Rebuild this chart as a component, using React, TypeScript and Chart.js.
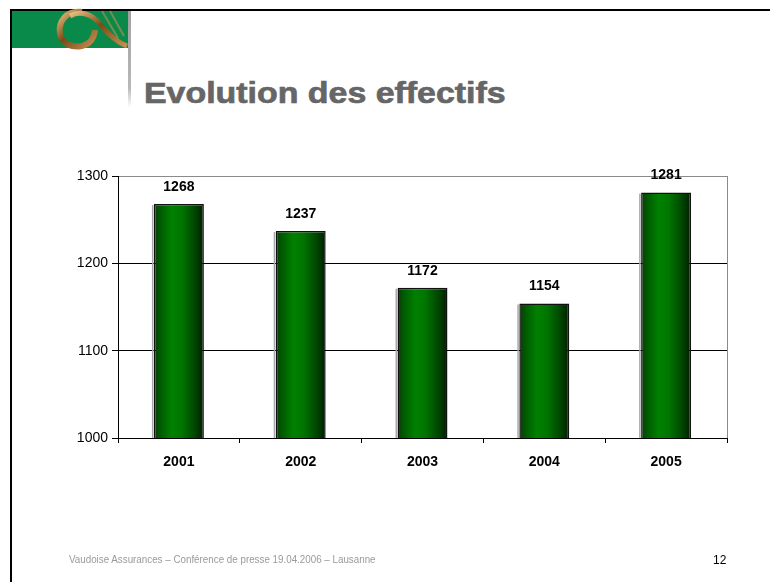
import React, { useEffect, useRef } from "react";
import { Chart, registerables } from "chart.js";

Chart.register(...registerables);

const categories = ["2001", "2002", "2003", "2004", "2005"];
const effectifs = [1268, 1237, 1172, 1154, 1281];
const yMin = 1000;
const yMax = 1300;
const yStep = 100;

const FONT = "'Liberation Sans', Arial, sans-serif";

const valueLabels = {
  id: "valueLabels",
  afterDatasetsDraw(chart: any) {
    const ctx = chart.ctx;
    const meta = chart.getDatasetMeta(0);
    ctx.save();
    ctx.font = `bold 14px ${FONT}`;
    ctx.fillStyle = "#000";
    ctx.textAlign = "center";
    ctx.textBaseline = "middle";
    meta.data.forEach((el: any, i: number) => {
      ctx.fillText(String(chart.data.datasets[0].data[i]), el.x, el.y - 17);
    });
    ctx.restore();
  },
};

const frame = {
  id: "frame",
  beforeDatasetsDraw(chart: any) {
    const { ctx, chartArea } = chart;
    ctx.save();
    ctx.strokeStyle = "#8a8a8a";
    ctx.lineWidth = 1;
    ctx.beginPath();
    ctx.moveTo(Math.round(chartArea.right) + 0.5, chartArea.top);
    ctx.lineTo(Math.round(chartArea.right) + 0.5, chartArea.bottom);
    ctx.stroke();
    const meta = chart.getDatasetMeta(0);
    ctx.fillStyle = "#a8a8a8";
    meta.data.forEach((el: any) => {
      const l = el.x - el.width / 2;
      ctx.fillRect(l - 2, el.y + 1, 1.5, chartArea.bottom - el.y - 1);
    });
    ctx.restore();
  },
};

export default function App() {
  const ref = useRef<HTMLCanvasElement>(null);
  useEffect(() => {
    if (!ref.current) return;
    const chart = new Chart(ref.current, {
      type: "bar",
      data: {
        labels: categories,
        datasets: [
          {
            data: effectifs,
            backgroundColor: (c: any) => {
              const ch = c.chart;
              if (!ch.chartArea) return "#007000";
              const xs = ch.scales.x;
              const cx = xs.getPixelForValue(c.dataIndex);
              const w = ((ch.chartArea.right - ch.chartArea.left) / categories.length) * 0.41;
              const g = ch.ctx.createLinearGradient(cx - w / 2, 0, cx + w / 2, 0);
              g.addColorStop(0, "#0b3a0b");
              g.addColorStop(0.12, "#005a00");
              g.addColorStop(0.35, "#008000");
              g.addColorStop(0.55, "#007600");
              g.addColorStop(0.8, "#004a00");
              g.addColorStop(1, "#001e00");
              return g;
            },
            borderColor: "#111",
            borderWidth: 1.5,
            barPercentage: 0.41,
            categoryPercentage: 1,
          },
        ],
      },
      options: {
        animation: false,
        responsive: false,
        devicePixelRatio: 1,
        layout: { padding: { left: 40, right: 43, top: 176, bottom: 104 } },
        plugins: { legend: { display: false }, tooltip: { enabled: false } },
        scales: {
          x: {
            afterFit: (s: any) => {
              s.height = 40;
            },
            grid: {
              offset: true,
              drawOnChartArea: false,
              drawTicks: true,
              tickLength: 5,
              color: "#000",
            },
            border: { color: "#000", width: 1 },
            ticks: {
              color: "#000",
              font: { family: FONT, size: 14, weight: "bold" },
              padding: 11,
            },
          },
          y: {
            min: yMin,
            max: yMax,
            afterFit: (s: any) => {
              s.width = 78;
            },
            grid: {
              color: (c: any) => (c.tick && c.tick.value === yMax ? "#8a8a8a" : "#000"),
              tickColor: "#000",
              tickLength: 6,
            },
            border: { color: "#000", width: 1 },
            ticks: {
              stepSize: yStep,
              color: "#000",
              font: { family: FONT, size: 14 },
              padding: 4,
              callback: (v: any) => String(v),
            },
          },
        },
      },
      plugins: [frame, valueLabels],
    } as any);
    return () => chart.destroy();
  }, []);

  return (
    <div style={{ position: "absolute", left: 0, top: 0, width: 770, height: 582, background: "#fff", overflow: "hidden" }}>
      <div style={{ position: "absolute", left: 10, top: 9, width: 760, height: 2, background: "#000" }} />
      <div style={{ position: "absolute", left: 10, top: 9, width: 2, height: 573, background: "#000" }} />
      <svg style={{ position: "absolute", left: 0, top: 0 }} width={140} height={110}>
        <defs>
          <linearGradient id="gold" x1="0" y1="0" x2="1" y2="1">
            <stop offset="0" stopColor="#e8c080" />
            <stop offset="0.45" stopColor="#7a4a18" />
            <stop offset="1" stopColor="#c89050" />
          </linearGradient>
          <linearGradient id="bar" x1="0" y1="0" x2="0" y2="1">
            <stop offset="0" stopColor="#a0a0a0" />
            <stop offset="0.8" stopColor="#b8b8b8" />
            <stop offset="1" stopColor="#ffffff" />
          </linearGradient>
        </defs>
        <rect x={12} y={11} width={116} height={37} fill="#0a8a4a" />
        <path d="M82 12 C66 10 58 22 60 34 C62 44 72 48 82 46 C90 44 94 38 95 30" fill="none" stroke="url(#gold)" strokeWidth={6} />
        <path d="M70 16 C80 10 92 14 100 24 C108 34 116 42 127 46" fill="none" stroke="url(#gold)" strokeWidth={5} />
        <path d="M102 11 L118 38 M110 11 L124 36" fill="none" stroke="#c09050" strokeWidth={2} opacity={0.6} />
        <rect x={128} y={11} width={3} height={96} fill="url(#bar)" />
      </svg>
      <div
        style={{
          position: "absolute",
          left: 144,
          top: 78,
          font: `bold 30px ${FONT}`,
          lineHeight: "30px",
          color: "#666666",
          whiteSpace: "nowrap",
          transform: "scaleX(1.13)",
          transformOrigin: "0 0",
          WebkitTextStroke: "0.7px #666666",
        }}
      >
        Evolution des effectifs
      </div>
      <canvas ref={ref} width={770} height={582} style={{ position: "absolute", left: 0, top: 0, width: 770, height: 582 }} />
      <div
        style={{
          position: "absolute",
          left: 69,
          top: 553,
          font: `10px 'Liberation Sans Narrow', ${FONT}`,
          lineHeight: "14px",
          color: "#9a9a9a",
          whiteSpace: "nowrap",
          transform: "scaleX(0.98)",
          transformOrigin: "0 0",
        }}
      >
        Vaudoise Assurances – Conférence de presse 19.04.2006 – Lausanne
      </div>
      <div
        style={{
          position: "absolute",
          left: 713,
          top: 553,
          font: `12px 'Liberation Sans Narrow', ${FONT}`,
          lineHeight: "14px",
          color: "#000",
        }}
      >
        12
      </div>
    </div>
  );
}
